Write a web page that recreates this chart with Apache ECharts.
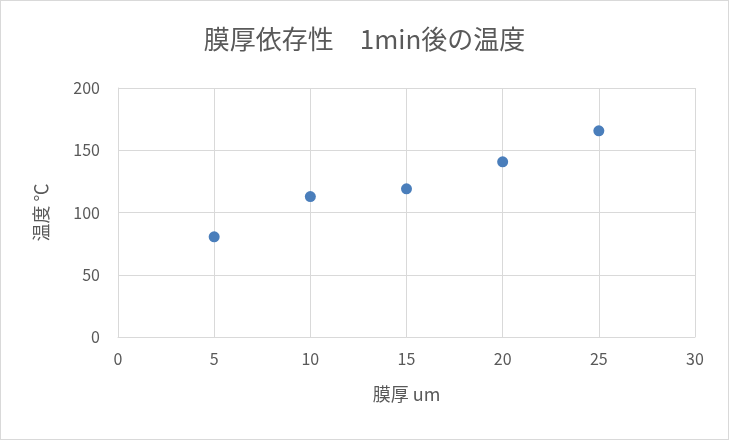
<!DOCTYPE html>
<html>
<head>
<meta charset="utf-8">
<script src="https://cdn.jsdelivr.net/npm/echarts@6/dist/echarts.min.js"></script>
<style>
html, body { margin: 0; padding: 0; background: #fff; }
#chart { width: 727px; height: 438px; border: 1px solid #d9d9d9; }
</style>
</head>
<body>
<div id="chart"></div>
<script>
// 膜厚 (um) と 1min後の温度 (℃)
var thickness = [5, 10, 15, 20, 25];
var temperature = [80.5, 112.8, 119, 140.7, 165.6];

var titleText = '膜厚依存性　1min後の温度';
var xName = '膜厚 um';
var yName = '温度 ℃';

var font = '"Noto Sans CJK JP", "Noto Sans", sans-serif';
var textColor = '#595959';
var gridColor = '#d9d9d9';

var points = [];
for (var i = 0; i < thickness.length; i++) {
    points.push([thickness[i], temperature[i]]);
}

var chart = echarts.init(document.getElementById('chart'));
chart.setOption({
    animation: false,
    title: {
        text: titleText,
        left: 'center',
        top: 20,
        textStyle: { fontFamily: font, fontSize: 26, fontWeight: 'normal', color: textColor }
    },
    grid: { left: 117, right: 33, top: 87, bottom: 102 },
    xAxis: {
        type: 'value',
        min: 0, max: 30, interval: 5,
        name: xName,
        nameLocation: 'middle',
        nameGap: 48,
        nameTextStyle: { fontFamily: font, fontSize: 18, color: textColor },
        axisLine: { show: true, lineStyle: { color: gridColor } },
        axisTick: { show: false },
        axisLabel: { fontFamily: font, fontSize: 16, color: textColor, margin: 14 },
        splitLine: { show: true, lineStyle: { color: gridColor } }
    },
    yAxis: {
        type: 'value',
        min: 0, max: 200, interval: 50,
        name: yName,
        nameLocation: 'middle',
        nameGap: 68,
        nameTextStyle: { fontFamily: font, fontSize: 18, color: textColor },
        axisLine: { show: true, lineStyle: { color: gridColor } },
        axisTick: { show: false },
        axisLabel: { fontFamily: font, fontSize: 16, color: textColor, margin: 18 },
        splitLine: { show: true, lineStyle: { color: gridColor } }
    },
    series: [{
        type: 'scatter',
        data: points,
        symbol: 'circle',
        symbolSize: 11,
        itemStyle: { color: '#4a7ebb', opacity: 1 }
    }]
});
</script>
</body>
</html>
